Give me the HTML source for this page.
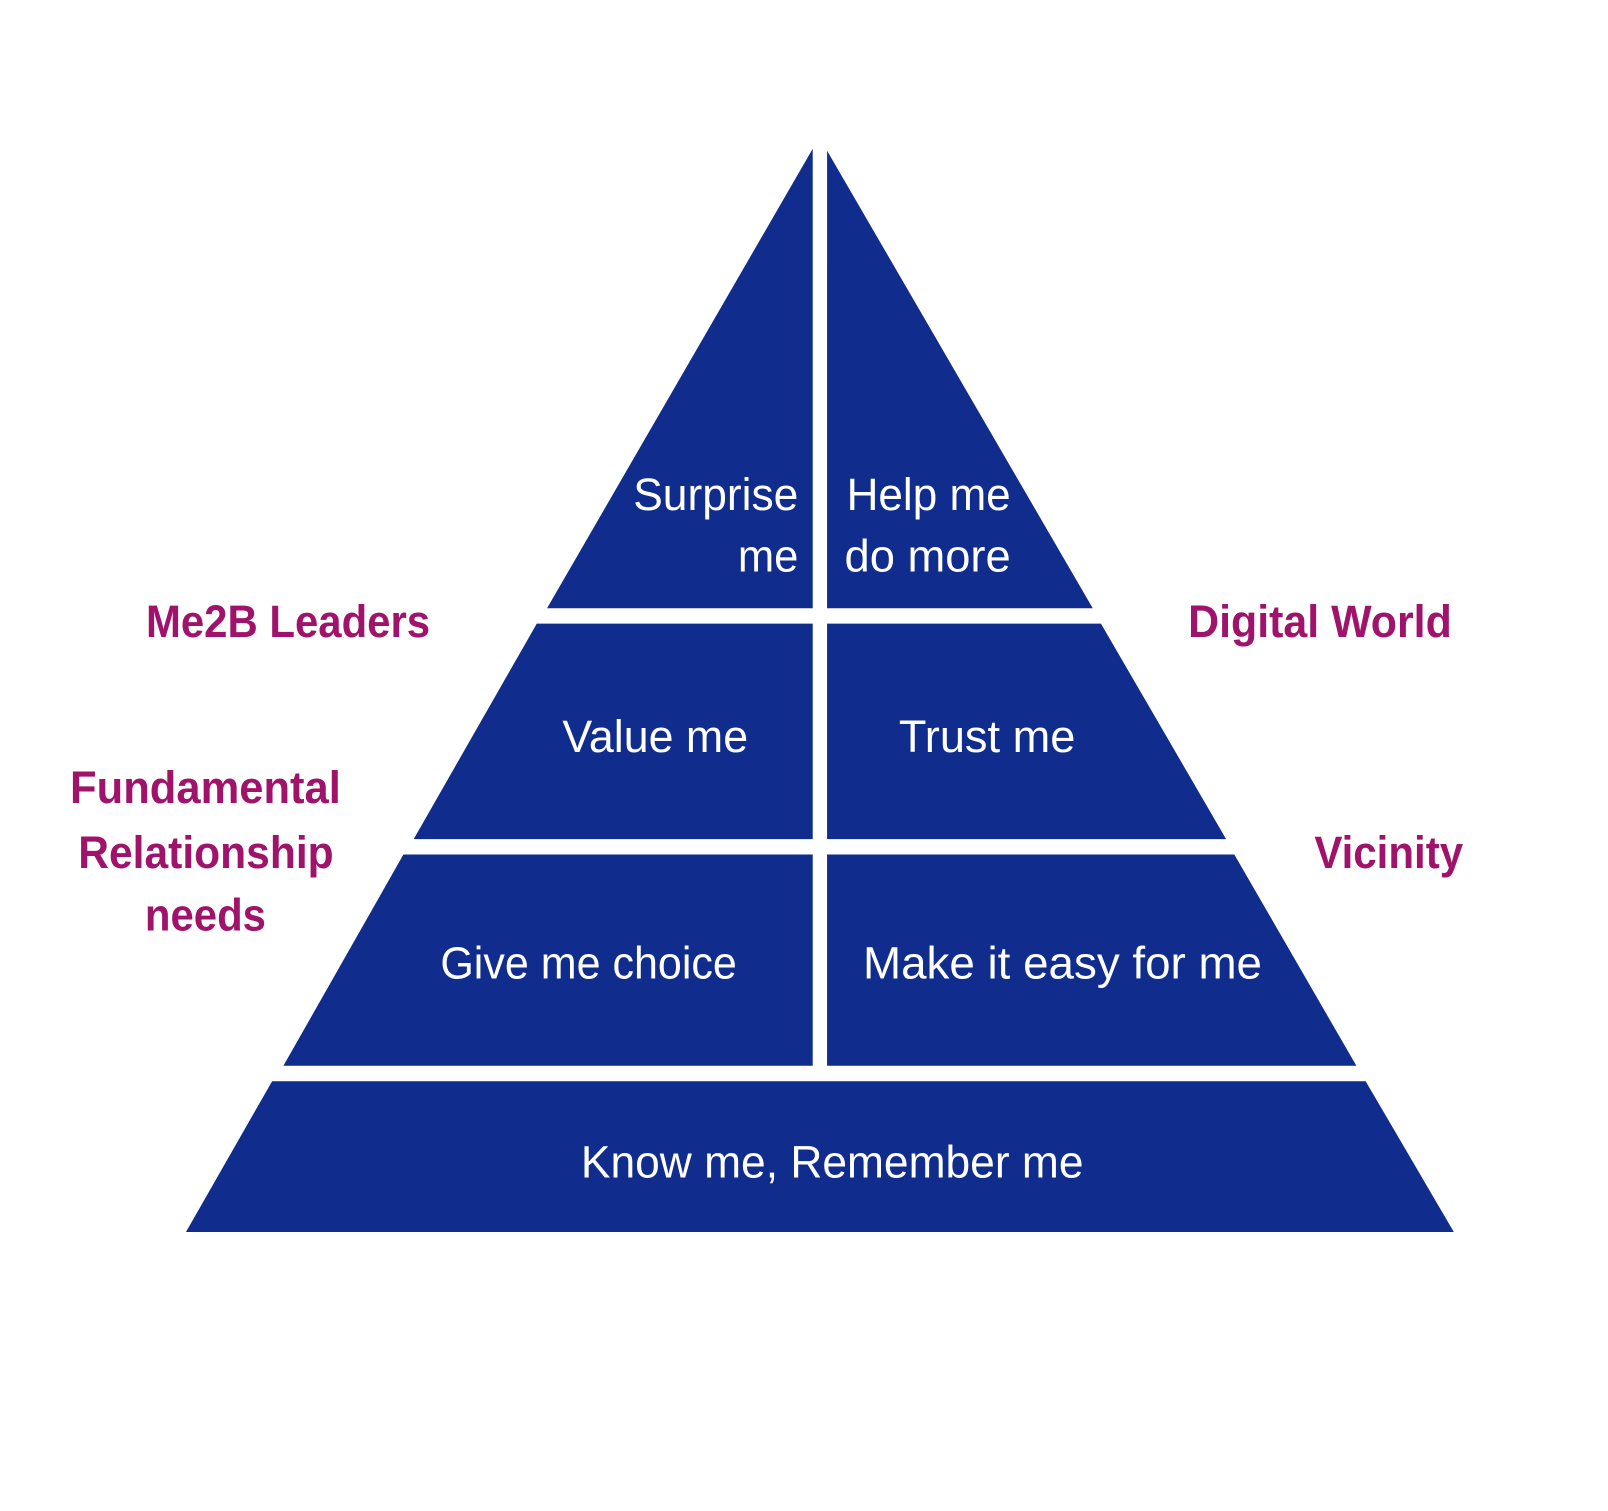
<!DOCTYPE html>
<html><head><meta charset="utf-8"><style>html,body{margin:0;padding:0;background:#fff}svg{display:block}</style></head>
<body>
<svg width="1608" height="1511" viewBox="0 0 1567 1473" xmlns="http://www.w3.org/2000/svg">
<rect width="1567" height="1473" fill="#fff"/>
<g fill="#102C8C">
<polygon points="792,145 792,593 533,593"/>
<polygon points="806,147 806,593 1065,593"/>
<polygon points="523,608 792,608 792,818 403,818"/>
<polygon points="806,608 1073,608 1195,818 806,818"/>
<polygon points="393,833 792,833 792,1039 276,1039"/>
<polygon points="806,833 1203,833 1322,1039 806,1039"/>
<polygon points="265,1054 1331,1054 1417,1201 181,1201"/>
</g>
<g fill="#fff" font-family="'Liberation Sans Narrow','Liberation Sans',sans-serif" font-size="44" lengthAdjust="spacingAndGlyphs">
<text x="617" y="497" textLength="161" lengthAdjust="spacingAndGlyphs">Surprise</text>
<text x="719" y="557" textLength="59" lengthAdjust="spacingAndGlyphs">me</text>
<text x="825" y="497" textLength="160" lengthAdjust="spacingAndGlyphs">Help me</text>
<text x="823" y="557" textLength="162" lengthAdjust="spacingAndGlyphs">do more</text>
<text x="548" y="733" textLength="181" lengthAdjust="spacingAndGlyphs">Value me</text>
<text x="876" y="733" textLength="172" lengthAdjust="spacingAndGlyphs">Trust me</text>
<text x="429" y="954" textLength="289" lengthAdjust="spacingAndGlyphs">Give me choice</text>
<text x="841" y="954" textLength="389" lengthAdjust="spacingAndGlyphs">Make it easy for me</text>
<text x="566" y="1148" textLength="490" lengthAdjust="spacingAndGlyphs">Know me, Remember me</text>
</g>
<g fill="#A0136A" font-family="'Liberation Sans Narrow','Liberation Sans',sans-serif" font-weight="bold" font-size="44">
<text x="142" y="621" textLength="277" lengthAdjust="spacingAndGlyphs">Me2B Leaders</text>
<text x="1158" y="621" textLength="257" lengthAdjust="spacingAndGlyphs">Digital World</text>
<text x="68" y="783" textLength="264" lengthAdjust="spacingAndGlyphs">Fundamental</text>
<text x="76" y="846" textLength="249" lengthAdjust="spacingAndGlyphs">Relationship</text>
<text x="141" y="907" textLength="118" lengthAdjust="spacingAndGlyphs">needs</text>
<text x="1281" y="846" textLength="145" lengthAdjust="spacingAndGlyphs">Vicinity</text>
</g>
</svg>
</body></html>
